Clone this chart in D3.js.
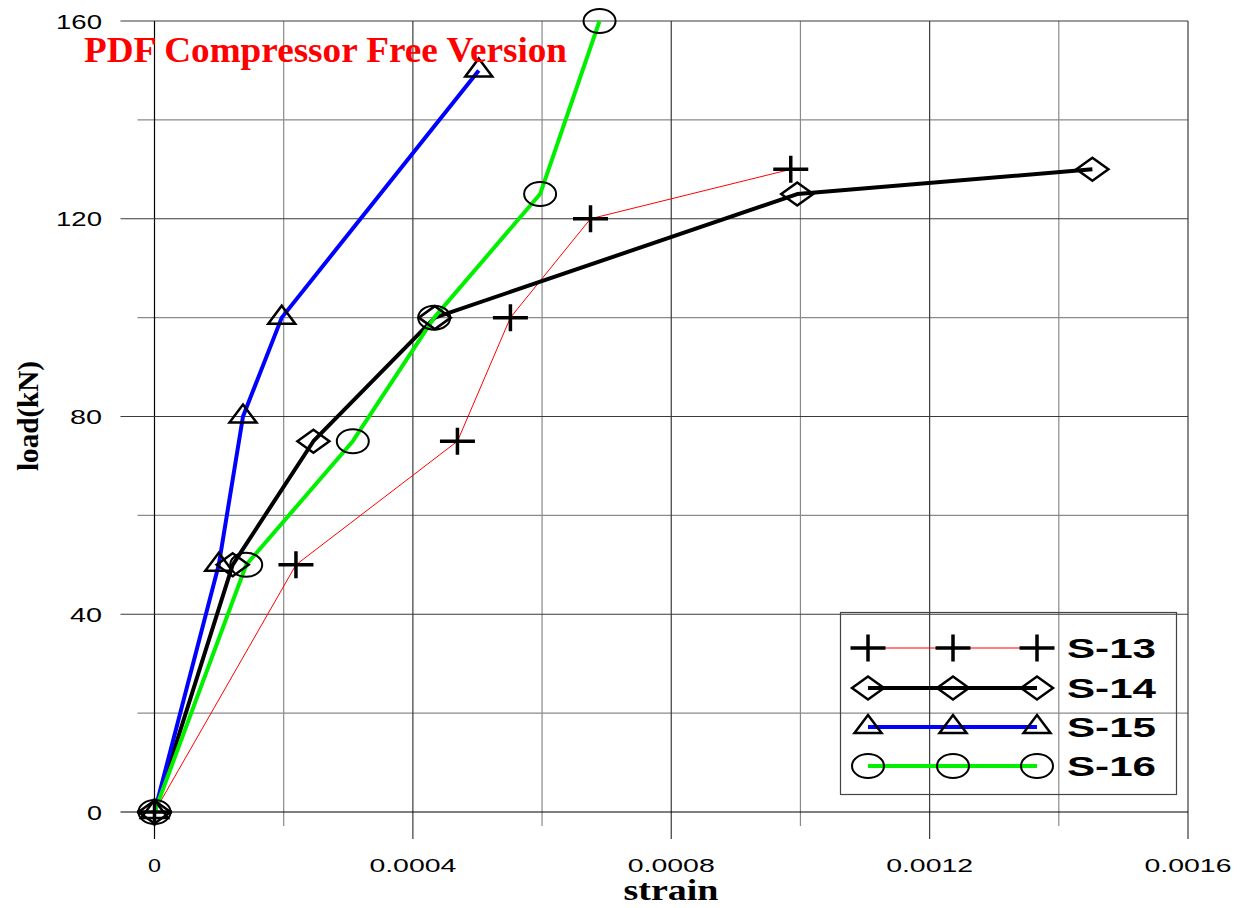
<!DOCTYPE html>
<html>
<head>
<meta charset="utf-8">
<script src="https://cdn.jsdelivr.net/npm/d3@7"></script>
<style>
  html, body { margin: 0; padding: 0; background: #fff; }
  svg { display: block; }
</style>
</head>
<body>
<svg id="chart" width="1242" height="908"></svg>
<script>
// Load–strain readings for the four specimens
const seriesNames = ["S-13", "S-14", "S-15", "S-16"];
const strainS13 = [0, 0.000219, 0.000469, 0.000551, 0.000675, 0.000985];
const loadS13   = [0, 50, 75, 100, 120, 130];
const strainS14 = [0, 0.000121, 0.000246, 0.000434, 0.000995, 0.001452];
const loadS14   = [0, 50, 75, 100, 125, 130];
const strainS15 = [0, 0.0000995, 0.000137, 0.000197, 0.000502];
const loadS15   = [0, 50, 80, 100, 150];
const strainS16 = [0, 0.000142, 0.000307, 0.000433, 0.000597, 0.000689];
const loadS16   = [0, 50, 75, 100, 125, 160];

// Axis ticks
const xMajorTicks = [0, 0.0004, 0.0008, 0.0012, 0.0016];
const xTickLabels = ["0", "0.0004", "0.0008", "0.0012", "0.0016"];
const xMinorTicks = [0.0002, 0.0006, 0.0010, 0.0014];
const yMajorTicks = [0, 40, 80, 120, 160];
const yTickLabels = ["0", "40", "80", "120", "160"];
const yMinorTicks = [20, 60, 100, 140];

// Styling per series
const styles = [
  { color: "#ff0000", width: 1, marker: "plus" },
  { color: "#000000", width: 4, marker: "diamond" },
  { color: "#0000ff", width: 4, marker: "triangle" },
  { color: "#00f000", width: 4, marker: "circle" }
];

const series = [
  [strainS13, loadS13],
  [strainS14, loadS14],
  [strainS15, loadS15],
  [strainS16, loadS16]
].map(([xs, ys], i) => ({
  name: seriesNames[i],
  points: xs.map((s, j) => ({ strain: s, load: ys[j] })),
  style: styles[i]
}));

const svg = d3.select("#chart");
const x = d3.scaleLinear().domain([0, 0.0016]).range([154.5, 1188]);
const y = d3.scaleLinear().domain([0, 160]).range([812, 21]);

const plotTop = y(160), plotBottom = y(0), plotLeft = x(0), plotRight = x(0.0016);

// Grid with ticks running past the axes
const grid = svg.append("g");
grid.selectAll(".vminor").data(xMinorTicks).join("line")
  .attr("x1", d => x(d)).attr("x2", d => x(d))
  .attr("y1", plotTop).attr("y2", plotBottom + 14)
  .attr("stroke", "#8a8a8a").attr("stroke-width", 1.2);
grid.selectAll(".hminor").data(yMinorTicks).join("line")
  .attr("x1", plotLeft - 17).attr("x2", plotRight)
  .attr("y1", d => y(d)).attr("y2", d => y(d))
  .attr("stroke", "#8a8a8a").attr("stroke-width", 1.2);
grid.selectAll(".vmajor").data(xMajorTicks).join("line")
  .attr("x1", d => x(d)).attr("x2", d => x(d))
  .attr("y1", plotTop).attr("y2", plotBottom + 27)
  .attr("stroke", d => d === 0 ? "#000" : "#3a3a3a").attr("stroke-width", 1.2);
grid.selectAll(".hmajor").data(yMajorTicks).join("line")
  .attr("x1", plotLeft - 34).attr("x2", plotRight)
  .attr("y1", d => y(d)).attr("y2", d => y(d))
  .attr("stroke", d => d === 0 ? "#000" : "#3a3a3a").attr("stroke-width", 1.2);

// Tick labels
const xLabelWidths = [13, 87, 87, 87, 87];
svg.append("g").selectAll("text").data(xMajorTicks).join("text")
  .attr("x", d => x(d)).attr("y", 872)
  .attr("text-anchor", "middle")
  .attr("font-family", "'Liberation Sans', Arial, sans-serif")
  .attr("font-size", 19)
  .attr("textLength", (d, i) => xLabelWidths[i])
  .attr("lengthAdjust", "spacingAndGlyphs")
  .attr("fill", "#000")
  .text((d, i) => xTickLabels[i]);

const yLabelWidths = [15, 32, 32, 46, 46];
svg.append("g").selectAll("text").data(yMajorTicks).join("text")
  .attr("x", 102).attr("y", d => y(d) + 7.5)
  .attr("text-anchor", "end")
  .attr("font-family", "'Liberation Sans', Arial, sans-serif")
  .attr("font-size", 21)
  .attr("textLength", (d, i) => yLabelWidths[i])
  .attr("lengthAdjust", "spacingAndGlyphs")
  .attr("fill", "#000")
  .text((d, i) => yTickLabels[i]);

// Axis titles
svg.append("text")
  .attr("x", 671).attr("y", 900)
  .attr("text-anchor", "middle")
  .attr("font-family", "'Liberation Serif', 'Times New Roman', serif")
  .attr("font-weight", "bold").attr("font-size", 29)
  .attr("textLength", 95).attr("lengthAdjust", "spacingAndGlyphs")
  .text("strain");

svg.append("text")
  .attr("transform", "translate(38,416) rotate(-90)")
  .attr("text-anchor", "middle")
  .attr("font-family", "'Liberation Serif', 'Times New Roman', serif")
  .attr("font-weight", "bold").attr("font-size", 30)
  .attr("textLength", 110).attr("lengthAdjust", "spacingAndGlyphs")
  .text("load(kN)");

// Marker shapes
function drawMarker(g, type, cx, cy) {
  if (type === "plus") {
    g.append("path")
      .attr("d", `M${cx - 17.5},${cy}H${cx + 17.5}M${cx},${cy - 13.5}V${cy + 13.5}`)
      .attr("stroke", "#000").attr("stroke-width", 3.5).attr("fill", "none");
  } else if (type === "diamond") {
    g.append("path")
      .attr("d", `M${cx - 16},${cy}L${cx},${cy - 11.5}L${cx + 16},${cy}L${cx},${cy + 11.5}Z`)
      .attr("stroke", "#000").attr("stroke-width", 2.5).attr("fill", "none");
  } else if (type === "triangle") {
    g.append("path")
      .attr("d", `M${cx},${cy - 12}L${cx + 13.5},${cy + 6}L${cx - 13.5},${cy + 6}Z`)
      .attr("stroke", "#000").attr("stroke-width", 2.5).attr("fill", "none");
  } else {
    g.append("ellipse")
      .attr("cx", cx).attr("cy", cy).attr("rx", 16).attr("ry", 12)
      .attr("stroke", "#000").attr("stroke-width", 2).attr("fill", "none");
  }
}

// Lines
const linesG = svg.append("g");
const line = d3.line().x(d => x(d.strain)).y(d => y(d.load));
series.forEach(s => {
  linesG.append("path")
    .attr("d", line(s.points))
    .attr("fill", "none")
    .attr("stroke", s.style.color)
    .attr("stroke-width", s.style.width)
    .attr("stroke-linejoin", "round");
});

// Markers
const markersG = svg.append("g");
series.forEach(s => {
  s.points.forEach(p => drawMarker(markersG, s.style.marker, x(p.strain), y(p.load)));
});

// Watermark
svg.append("text")
  .attr("x", 84).attr("y", 62)
  .attr("font-family", "'Liberation Serif', 'Times New Roman', serif")
  .attr("font-weight", "bold").attr("font-size", 36)
  .attr("textLength", 483).attr("lengthAdjust", "spacingAndGlyphs")
  .attr("fill", "#ff0000")
  .text("PDF Compressor Free Version");

// Legend
const legend = svg.append("g");
legend.append("rect")
  .attr("x", 840.5).attr("y", 612.5).attr("width", 336).attr("height", 182)
  .attr("fill", "none").attr("stroke", "#444").attr("stroke-width", 1.2);
const legendRowsY = [648, 688, 727, 766];
const legendMarkX = [868, 953, 1037];
series.forEach((s, i) => {
  const ly = legendRowsY[i];
  legend.append("line")
    .attr("x1", legendMarkX[0]).attr("x2", legendMarkX[2])
    .attr("y1", ly).attr("y2", ly)
    .attr("stroke", s.style.color).attr("stroke-width", s.style.width);
  legendMarkX.forEach(mx => drawMarker(legend, s.style.marker, mx, ly));
  legend.append("text")
    .attr("x", 1067).attr("y", ly + 10)
    .attr("font-family", "'Liberation Sans', Arial, sans-serif")
    .attr("font-weight", "bold").attr("font-size", 28)
    .attr("textLength", 89).attr("lengthAdjust", "spacingAndGlyphs")
    .text(s.name);
});
</script>
</body>
</html>
